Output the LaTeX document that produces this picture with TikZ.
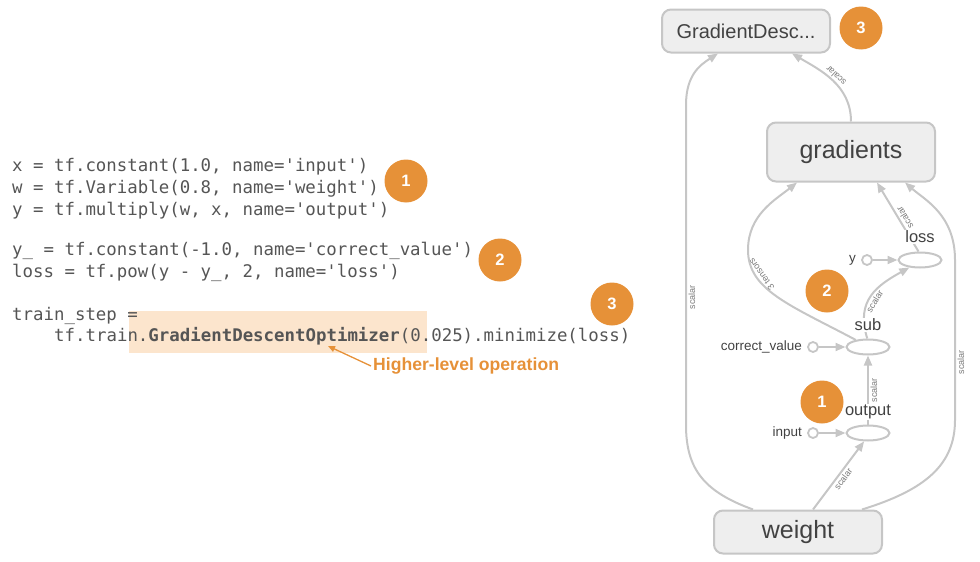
\documentclass[tikz,border=0pt]{standalone}
\usepackage{fontspec}
\setmainfont{Liberation Sans}
\setmonofont{DejaVu Sans Mono}
\usetikzlibrary{arrows.meta,shapes.geometric,positioning}

\definecolor{edgegray}{HTML}{C6C6C6}
\definecolor{boxfill}{HTML}{EEEEEE}
\definecolor{labelgray}{HTML}{424242}
\definecolor{taggray}{HTML}{7A7A7A}
\definecolor{badgeorange}{HTML}{E69138}
\definecolor{codegray}{HTML}{555555}
\definecolor{hilite}{HTML}{FCE5CD}

\begin{document}
\begin{tikzpicture}[x=1pt, y=-1pt,
        opbox/.style={rectangle, rounded corners=9pt, draw=edgegray, fill=boxfill, line width=2pt, minimum width=168pt, inner sep=0pt, text=labelgray},
        opnode/.style={ellipse, draw=edgegray, fill=white, line width=2pt, minimum width=43pt, minimum height=15pt, inner sep=0pt},
        constnode/.style={circle, draw=edgegray, fill=white, line width=1.8pt, minimum size=10pt, inner sep=0pt},
        oplabel/.style={anchor=base, fill=white, inner sep=1pt, text=labelgray, font=\fontsize{16.5}{16.5}\selectfont},
        constlabel/.style={inner sep=1pt, text=labelgray, font=\fontsize{13.5}{13.5}\selectfont},
        flow/.style={draw=edgegray, line width=2pt, -{Triangle[length=10pt,width=8pt]}},
        tag/.style={sloped, allow upside down, below, inner sep=1.5pt, text=taggray, font=\fontsize{9}{9}\selectfont},
        numbadge/.style={circle, fill=badgeorange, minimum size=43pt, inner sep=0pt, text=white, font=\fontsize{16.5}{16.5}\selectfont\bfseries},
        codeline/.style={anchor=base west, inner sep=0pt, text=codegray, font=\ttfamily\fontsize{17.4}{20}\selectfont}]
        \useasboundingbox (0,0) rectangle (980,562);

        % Highlight behind the optimizer call
        \fill[hilite] (129,311) rectangle (427,353);

        % Nodes
        \node (gd) [opbox, minimum height=43pt, font=\fontsize{20}{20}\selectfont] at (746,31) {GradientDesc...};
        \node (grad) [opbox, minimum height=59pt, font=\fontsize{25}{25}\selectfont] at (851,152) {gradients};
        \node (weight) [opbox, minimum height=43pt, font=\fontsize{25}{25}\selectfont] at (798,532) {weight};
        \node (loss) [opnode] at (920,260) {};
        \node (sub) [opnode] at (868,347) {};
        \node (output) [opnode] at (868,433) {};
        \node (y) [constnode] at (867,260) {};
        \node (correct) [constnode] at (813,347) {};
        \node (input) [constnode] at (813,433) {};

        % Arrows
        \draw[flow] (input) -- (output);
        \draw[flow] (correct) -- (sub);
        \draw[flow] (y) -- (loss);
        \draw[flow] ([xshift=15pt]weight.north) -- node[tag] {scalar} (output.245);
        \draw[flow] (output.north) -- node[tag] {scalar} (sub.south);
        \draw[flow] (sub.95) .. controls (855,300) and (878,285) .. node[tag, pos=0.45] {scalar} (loss.215);
        \draw[flow] (sub.150) .. controls (790,305) and (748,290) .. node[tag, pos=0.73] {3 tensors} (748,250)
            .. controls (748,215) and (775,200) .. ([xshift=-54pt]grad.south);
        \draw[flow] (loss.100) -- node[tag, pos=0.45] {scalar} ([xshift=26pt]grad.south);
        \draw[flow] ([xshift=-45pt]weight.north) .. controls (705,492) and (686,470) .. (686,425)
            -- node[tag, pos=0.4] {scalar} (686,105)
            .. controls (686,75) and (700,65) .. ([xshift=-28pt]gd.south);
        \draw[flow] ([xshift=64pt]weight.north) .. controls (925,490) and (955,465) .. (955,420)
            -- node[tag, pos=0.36] {scalar} (955,260)
            .. controls (955,215) and (925,200) .. ([xshift=54pt]grad.south);
        \draw[flow] (grad.north) .. controls (851,85) and (820,70) .. node[tag, pos=0.5] {scalar} ([xshift=46pt]gd.south);

        % Labels
        \node (losslabel) [oplabel] at ([yshift=9pt]loss.north) {loss};
        \node (sublabel) [oplabel] at ([yshift=8pt]sub.north) {sub};
        \node (outputlabel) [oplabel] at ([yshift=9pt]output.north) {output};
        \node (ylabel) [constlabel, left=4pt of y] {y};
        \node (correctlabel) [constlabel, left=4pt of correct] {correct\_value};
        \node (inputlabel) [constlabel, left=4pt of input] {input};

        % Code
        \node (code1) [codeline] at (12,171) {x = tf.constant(1.0, name='input')};
        \node (code2) [codeline] at (12,193) {w = tf.Variable(0.8, name='weight')};
        \node (code3) [codeline] at (12,215) {y = tf.multiply(w, x, name='output')};
        \node (code4) [codeline] at (12,255) {y\_ = tf.constant(-1.0, name='correct\_value')};
        \node (code5) [codeline] at (12,277) {loss = tf.pow(y - y\_, 2, name='loss')};
        \node (code6) [codeline] at (12,320) {train\_step =};
        \node (code7) [codeline] at (54,341) {tf.train.\textbf{GradientDescentOptimizer}(0.025).minimize(loss)};

        % Annotation
        \node (hlop) [anchor=west, inner sep=2pt, text=badgeorange, font=\fontsize{17.6}{17.6}\selectfont\bfseries] at (371,366) {Higher-level operation};
        \coordinate (hltip) at (328,346);
        \draw[badgeorange, line width=1.3pt, -{Triangle[length=7pt,width=6pt]}] (hlop.west) -- (hltip);

        % Badges
        \node (codebadge1) [numbadge] at (406,181) {1};
        \node (codebadge2) [numbadge] at (500,260) {2};
        \node (codebadge3) [numbadge] at (612,304) {3};
        \node (graphbadge1) [numbadge] at (822,402) {1};
        \node (graphbadge2) [numbadge] at (827,291) {2};
        \node (graphbadge3) [numbadge] at (861,28) {3};
    \end{tikzpicture}
\end{document}
